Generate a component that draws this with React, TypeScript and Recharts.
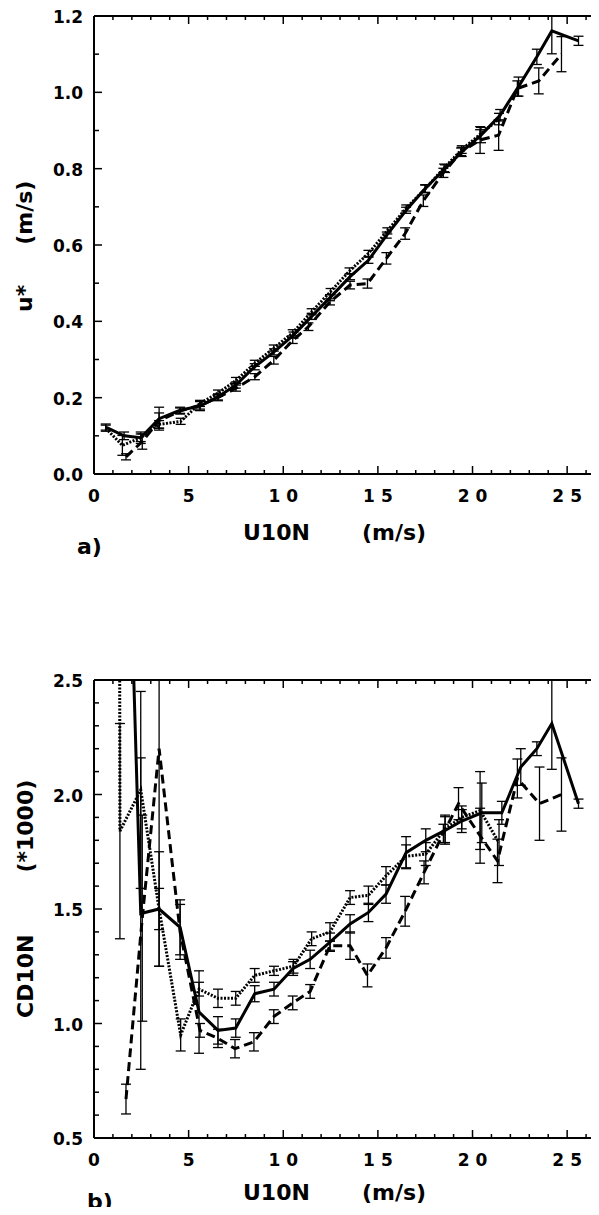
import React from 'react'
import { LineChart, Line, XAxis, YAxis, ErrorBar } from 'recharts'

// wind speed ticks (m/s)
const xTicks = [0, 1, 2, 3, 4, 5, 6, 7, 8, 9, 10, 11, 12, 13, 14, 15, 16, 17, 18, 19, 20, 21, 22, 23, 24, 25, 26]
const xLabels = [0, 5, 10, 15, 20, 25]

const yTicksTop = [0, 0.1, 0.2, 0.3, 0.4, 0.5, 0.6, 0.7, 0.8, 0.9, 1.0, 1.1, 1.2]
const yLabelsTop = [0, 0.2, 0.4, 0.6, 0.8, 1.0, 1.2]
const yTicksBot = [0.5, 0.6, 0.7, 0.8, 0.9, 1.0, 1.1, 1.2, 1.3, 1.4, 1.5, 1.6, 1.7, 1.8, 1.9, 2.0, 2.1, 2.2, 2.3, 2.4, 2.5]
const yLabelsBot = [0.5, 1.0, 1.5, 2.0, 2.5]

// a) u* (m/s)
const solidTopU = [0.62, 1.59, 2.47, 3.44, 4.55, 5.6, 6.55, 7.49, 8.49, 9.51, 10.54, 11.5, 12.47, 13.53, 14.5, 15.47, 16.49, 17.5, 18.55, 19.43, 20.45, 21.46, 22.43, 23.4, 24.19, 25.6]
const solidTopV = [0.123, 0.1, 0.095, 0.145, 0.167, 0.178, 0.202, 0.233, 0.281, 0.32, 0.364, 0.413, 0.462, 0.517, 0.56, 0.626, 0.691, 0.748, 0.8, 0.844, 0.888, 0.94, 1.015, 1.093, 1.161, 1.135]
const solidTopE = [0.008, 0.01, 0.015, 0.03, 0.008, 0.012, 0.008, 0.008, 0.008, 0.008, 0.008, 0.008, 0.008, 0.008, 0.008, 0.008, 0.008, 0.01, 0.01, 0.012, 0.02, 0.015, 0.025, 0.02, 0.06, 0.012]

const dashedTopU = [1.69, 2.55, 3.44, 4.55, 5.6, 6.55, 7.5, 8.5, 9.5, 10.5, 11.33, 12.47, 13.53, 14.45, 15.45, 16.44, 17.4, 18.46, 19.4, 20.4, 21.38, 22.37, 23.5, 24.7]
const dashedTopV = [0.045, 0.085, 0.14, 0.165, 0.18, 0.2, 0.225, 0.255, 0.298, 0.35, 0.386, 0.451, 0.495, 0.499, 0.565, 0.63, 0.716, 0.789, 0.844, 0.875, 0.888, 1.01, 1.03, 1.1]
const dashedTopE = [0.008, 0.02, 0.02, 0.008, 0.01, 0.008, 0.008, 0.008, 0.01, 0.008, 0.01, 0.008, 0.01, 0.012, 0.015, 0.015, 0.015, 0.012, 0.01, 0.035, 0.04, 0.02, 0.034, 0.046]

const dottedTopU = [0.62, 1.5, 2.47, 3.44, 4.58, 5.6, 6.55, 7.5, 8.5, 9.5, 10.5, 11.5, 12.5, 13.5, 14.5, 15.5, 16.5, 17.5, 18.5, 19.43, 20.4, 21.4]
const dottedTopV = [0.12, 0.075, 0.095, 0.13, 0.138, 0.185, 0.212, 0.245, 0.29, 0.33, 0.37, 0.425, 0.478, 0.532, 0.578, 0.637, 0.697, 0.747, 0.802, 0.85, 0.89, 0.93]
const dottedTopE = [0.008, 0.026, 0.01, 0.01, 0.008, 0.008, 0.008, 0.008, 0.008, 0.008, 0.008, 0.008, 0.008, 0.008, 0.008, 0.008, 0.008, 0.01, 0.01, 0.01, 0.012, 0.015]

// b) CD10N (*1000)
const solidBotU = [1.6, 2.47, 3.44, 4.55, 5.55, 6.55, 7.49, 8.49, 9.51, 10.52, 11.42, 12.47, 13.53, 14.5, 15.43, 16.49, 17.53, 18.55, 19.43, 20.49, 21.55, 22.55, 23.4, 24.19, 25.6]
const solidBotV = [3.9, 1.48, 1.5, 1.42, 1.05, 0.97, 0.98, 1.13, 1.15, 1.24, 1.28, 1.355, 1.435, 1.485, 1.565, 1.746, 1.8, 1.843, 1.884, 1.92, 1.92, 2.12, 2.2, 2.31, 1.96]
const solidBotE = [0.3, 0.68, 0.09, 0.12, 0.18, 0.06, 0.04, 0.035, 0.03, 0.03, 0.04, 0.04, 0.04, 0.04, 0.04, 0.07, 0.05, 0.06, 0.05, 0.13, 0.05, 0.08, 0.03, 0.2, 0.02]

const dashedBotU = [1.69, 2.55, 3.44, 4.55, 5.6, 6.55, 7.45, 8.45, 9.5, 10.5, 11.42, 12.47, 13.53, 14.45, 15.43, 16.44, 17.44, 18.46, 19.26, 20.4, 21.32, 22.37, 23.54, 24.7]
const dashedBotV = [0.67, 1.46, 2.2, 1.4, 0.97, 0.935, 0.89, 0.92, 1.03, 1.09, 1.14, 1.34, 1.34, 1.21, 1.33, 1.49, 1.66, 1.83, 1.96, 1.82, 1.71, 2.07, 1.96, 2.0]
const dashedBotE = [0.065, 0.45, 0.95, 0.12, 0.03, 0.04, 0.04, 0.04, 0.03, 0.03, 0.03, 0.02, 0.06, 0.05, 0.045, 0.065, 0.05, 0.04, 0.07, 0.12, 0.095, 0.085, 0.16, 0.16]

const dottedBotU = [1.32, 1.37, 2.47, 3.44, 4.58, 5.55, 6.55, 7.49, 8.49, 9.51, 10.54, 11.5, 12.47, 13.53, 14.5, 15.43, 16.49, 17.53, 18.55, 19.43, 20.4, 21.4]
const dottedBotV = [4.5, 1.84, 2.02, 1.5, 0.95, 1.15, 1.11, 1.11, 1.21, 1.23, 1.25, 1.37, 1.4, 1.55, 1.56, 1.645, 1.73, 1.74, 1.85, 1.9, 1.93, 1.79]
const dottedBotE = [0.3, 0.47, 0.43, 0.25, 0.07, 0.03, 0.04, 0.03, 0.03, 0.02, 0.03, 0.03, 0.04, 0.03, 0.04, 0.04, 0.05, 0.05, 0.06, 0.05, 0.17, 0.1]

// error bars are cut at the top of the frame, like the plotted lines
const zip = (u: number[], v: number[], e: number[], yMax: number) =>
  u.map((x, i) => ({ u: x, v: v[i], e: v[i] >= yMax ? null : [e[i], Math.min(e[i], yMax - v[i])] }))

const FONT = '"DejaVu Sans", sans-serif'
const near = (list: number[], v: number) => list.some((m) => Math.abs(m - v) < 1e-6)

type TickProps = { x?: number; y?: number; payload?: { value: number } }

const BottomTick = ({ x = 0, y = 0, payload }: TickProps) => {
  const v = payload ? payload.value : 0
  const major = near(xLabels, v)
  return (
    <g>
      <line x1={x} x2={x} y1={y} y2={y - (major ? 8 : 4)} stroke="#000" strokeWidth={1.5} />
      {major && (
        <text x={x + 3} y={y + 28} textAnchor="middle" fontFamily={FONT} fontWeight="bold" fontSize={17} letterSpacing={6} fill="#000">
          {v}
        </text>
      )}
    </g>
  )
}

const TopTick = ({ x = 0, y = 0, payload }: TickProps) => {
  const v = payload ? payload.value : 0
  const major = near(xLabels, v)
  return <line x1={x} x2={x} y1={y} y2={y + (major ? 8 : 4)} stroke="#000" strokeWidth={1.5} />
}

const makeLeftTick = (labels: number[]) => ({ x = 0, y = 0, payload }: TickProps) => {
  const v = payload ? payload.value : 0
  const major = near(labels, v)
  return (
    <g>
      <line x1={x} x2={x + (major ? 8 : 5)} y1={y} y2={y} stroke="#000" strokeWidth={1.5} />
      {major && (
        <text x={x - 11} y={y + 7} textAnchor="end" fontFamily={FONT} fontWeight="bold" fontSize={17} fill="#000">
          {v.toFixed(1)}
        </text>
      )}
    </g>
  )
}

const makeRightTick = (labels: number[]) => ({ x = 0, y = 0, payload }: TickProps) => {
  const v = payload ? payload.value : 0
  const major = near(labels, v)
  return <line x1={x} x2={x - (major ? 8 : 5)} y1={y} y2={y} stroke="#000" strokeWidth={1.5} />
}

const YTitle = ({ posX, posY, first, second, gap }: { posX: number; posY: number; first: string; second: string; gap: number }) => (
  <text transform={`translate(${posX},${posY}) rotate(-90)`} fontFamily={FONT} fontWeight="bold" fontSize={22} fill="#000">
    <tspan>{first}</tspan>
    <tspan dx={gap}>{second}</tspan>
  </text>
)

const XTitle = ({ baseY, tag, tagX, tagY }: { baseY: number; tag: string; tagX: number; tagY: number }) => (
  <g fontFamily={FONT} fontWeight="bold" fontSize={22} fill="#000">
    <text x={243} y={baseY}>U10N</text>
    <text x={362} y={baseY}>(m/s)</text>
    <text x={tagX} y={tagY}>{tag}</text>
  </g>
)

const axisLine = { stroke: '#000', strokeWidth: 2 }

type Pt = { u: number; v: number; e: number[] | null }

const Panel = ({
  height, top, bottom, yDomain, yTicks, yLabels, solid, dashed, dotted, yTitle, xTitle,
}: {
  height: number; top: number; bottom: number; yDomain: [number, number]; yTicks: number[]; yLabels: number[]
  solid: Pt[]; dashed: Pt[]; dotted: Pt[]; yTitle: React.ReactElement; xTitle: React.ReactElement
}) => {
  const series = [
    { key: 'dotted', data: dotted, dash: '2 1.5' },
    { key: 'dashed', data: dashed, dash: '9 5' },
    { key: 'solid', data: solid, dash: undefined },
  ]
  return (
    <LineChart width={620} height={height} margin={{ top: top - 10, right: 5, bottom: height - bottom - 40, left: 34 }}>
      <XAxis xAxisId="b" type="number" dataKey="u" domain={[0, 27]} allowDataOverflow ticks={xTicks} interval={0}
        tickSize={0} tickMargin={0} tickLine={false} tick={BottomTick} axisLine={axisLine} height={40} label={xTitle} />
      <XAxis xAxisId="t" orientation="top" type="number" dataKey="u" domain={[0, 27]} allowDataOverflow ticks={xTicks} interval={0}
        tickSize={0} tickMargin={0} tickLine={false} tick={TopTick} axisLine={axisLine} height={10} />
      <YAxis yAxisId="l" type="number" domain={yDomain} allowDataOverflow ticks={yTicks} interval={0}
        tickSize={0} tickMargin={0} tickLine={false} tick={makeLeftTick(yLabels)} axisLine={axisLine} width={60} label={yTitle} />
      <YAxis yAxisId="r" orientation="right" type="number" domain={yDomain} allowDataOverflow ticks={yTicks} interval={0}
        tickSize={0} tickMargin={0} tickLine={false} tick={makeRightTick(yLabels)} axisLine={axisLine} width={10} />
      {series.map((s) => (
        <Line key={s.key} xAxisId="b" yAxisId="l" data={s.data} dataKey="v" type="linear" stroke="#000" strokeWidth={3}
          strokeDasharray={s.dash} dot={false} activeDot={false} isAnimationActive={false}>
          <ErrorBar dataKey="e" direction="y" width={5} stroke="#000" strokeWidth={1.3} />
        </Line>
      ))}
    </LineChart>
  )
}

export default function App() {
  return (
    <div style={{ position: 'relative', width: 599, height: 1215, overflow: 'hidden', margin: -8, background: '#fff' }}>
      <div style={{ position: 'absolute', left: 0, top: 0 }}>
        <Panel height={600} top={16} bottom={474} yDomain={[0, 1.2]} yTicks={yTicksTop} yLabels={yLabelsTop}
          solid={zip(solidTopU, solidTopV, solidTopE, 1.2)} dashed={zip(dashedTopU, dashedTopV, dashedTopE, 1.2)}
          dotted={zip(dottedTopU, dottedTopV, dottedTopE, 1.2)}
          yTitle={<YTitle posX={32} posY={312} first="u*" second="(m/s)" gap={40} />}
          xTitle={<XTitle baseY={540} tag="a)" tagX={77} tagY={554} />} />
      </div>
      <div style={{ position: 'absolute', left: 0, top: 600 }}>
        <Panel height={615} top={80} bottom={538} yDomain={[0.5, 2.5]} yTicks={yTicksBot} yLabels={yLabelsBot}
          solid={zip(solidBotU, solidBotV, solidBotE, 2.5)} dashed={zip(dashedBotU, dashedBotV, dashedBotE, 2.5)}
          dotted={zip(dottedBotU, dottedBotV, dottedBotE, 2.5)}
          yTitle={<YTitle posX={33} posY={418} first="CD10N" second="(*1000)" gap={62} />}
          xTitle={<XTitle baseY={600} tag="b)" tagX={87} tagY={609} />} />
      </div>
    </div>
  )
}
